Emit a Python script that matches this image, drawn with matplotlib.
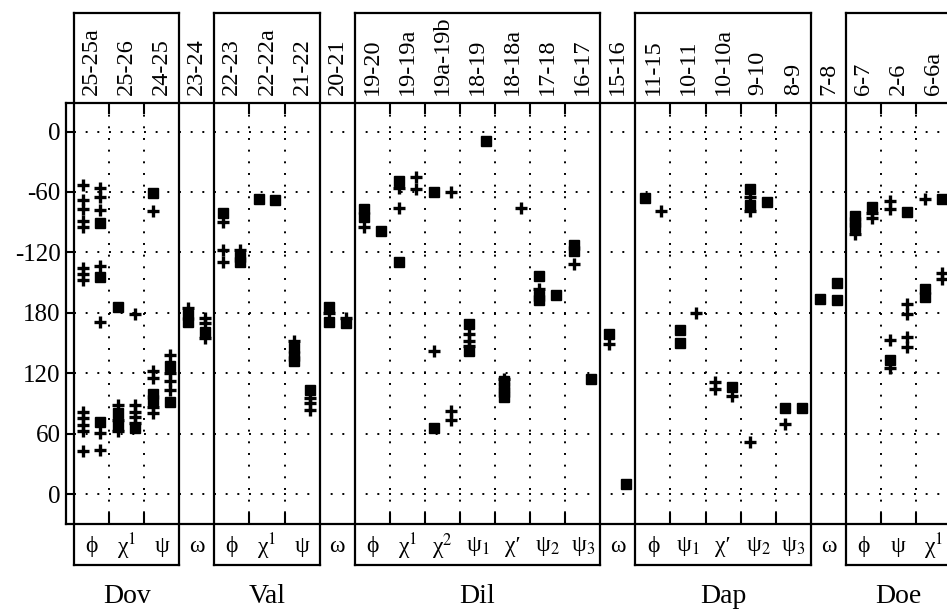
import matplotlib
matplotlib.use('Agg')
import matplotlib.pyplot as plt

plt.rcParams['font.family'] = ['Liberation Serif', 'DejaVu Serif']
plt.rcParams['mathtext.fontset'] = 'stix'

# residue pairs (top) and torsion names (bottom), one per column
pairs = ['25-25a', '25-26', '24-25', '23-24', '22-23', '22-22a', '21-22', '20-21',
         '19-20', '19-19a', '19a-19b', '18-19', '18-18a', '17-18', '16-17', '15-16',
         '11-15', '10-11', '10-10a', '9-10', '8-9', '7-8', '6-7', '2-6', '6-6a']
angles = ['ϕ', 'χ$^1$', 'ψ', 'ω',
          'ϕ', 'χ$^1$', 'ψ', 'ω',
          'ϕ', 'χ$^1$', 'χ$^2$', 'ψ$_1$', 'χ′', 'ψ$_2$', 'ψ$_3$', 'ω',
          'ϕ', 'ψ$_1$', 'χ′', 'ψ$_2$', 'ψ$_3$', 'ω',
          'ϕ', 'ψ', 'χ$^1$']
groups = ['Dov', 'Val', 'Dil', 'Dap', 'Doe']
group_cols = [(0, 2), (4, 6), (8, 14), (16, 20), (22, 24)]

# torsion values (degrees) per column, left / right sub-position
left_plus = [[-53, -68, -77, -89, -95, -135, -141, -147, 82, 76, 69, 63, 43],
             [89, 74, 63], [-79, 122, 115, 87, 81], [-175],
             [-90, -118, -129], [], [152], [180],
             [-95], [-56, -76], [142], [159, 152, 147], [114], [-156], [-131], [149],
             [], [], [111, 105], [-65, -79, 52], [70], [],
             [-102], [-69, -77, 153, 125], [-67]]
left_box = [[], [-174, 81, 68], [-61, 100, 94], [178, 171],
            [-81], [-67], [145, 137, 132], [-174, 171],
            [-77, -85], [-49, -129], [-60, 66], [169, 142], [112, 107, 102, 97], [-143, -163, -167], [-113, -119], [159],
            [-66], [163, 150], [], [-57, -73], [86], [-166],
            [-84, -90, -95], [133], [-156, -164]]
right_plus = [[-56, -65, -78, -133, 171, 61, 44],
              [179, 89, 82, 77, 71], [138, 120, 112, 104], [175, 170, 155],
              [-118], [], [96, 91, 84], [175],
              [], [-45, -57], [-60, 83, 74], [], [-76], [], [], [],
              [-79], [180], [98], [], [], [],
              [-81, -86], [-171, 179, 156, 146], [-140, -146]]
right_box = [[-91, -144, 72], [66], [127, 92], [161],
             [-124, -129], [-68], [104], [170],
             [-99], [], [], [-9], [], [-162], [114], [10],
             [], [], [107], [-70], [86], [-150, -167],
             [-75], [-80], [-67]]


def to_y(v):
    # axis runs 0 -> -180/180 -> 0 going down
    return (-v) % 360


fig = plt.figure(figsize=(9.47, 6.14), dpi=100)
ax = fig.add_axes([66 / 947, 90 / 614, 881 / 947, 421 / 614])
ax.set_xlim(-0.727, 24.38)
ax.set_ylim(389.4, -28.3)

off = 0.24
for i in range(len(pairs)):
    for vals, dx, mk in [(left_plus[i], -off, '+'), (right_plus[i], off, '+'),
                         (left_box[i], -off, 's'), (right_box[i], off, 's')]:
        if not vals:
            continue
        ys = [to_y(v) for v in vals]
        if mk == '+':
            ax.plot([i + dx] * len(ys), ys, '+', color='black', ms=9, mew=2.4)
        else:
            ax.plot([i + dx] * len(ys), ys, 's', color='black', ms=7)

dots = (0, (1, 5))
for yv in range(0, 361, 60):
    ax.hlines(yv, -0.5, 25, colors='black', linewidth=1.4, linestyles=[dots])

y_top, y_bot = -117.6, 430.1
for (a, b) in group_cols:
    for k in range(a, b):
        ax.vlines(k + 0.5, -28.3, 389.4, colors='black', linewidth=1.4, linestyles=[dots])
        ax.plot([k + 0.5, k + 0.5], [-28.3, -18], color='black', lw=1.5)
        ax.plot([k + 0.5, k + 0.5], [389.4, 379], color='black', lw=1.5)
    ax.plot([a - 0.5, a - 0.5], [y_top, y_bot], color='black', lw=1.6, clip_on=False)
    ax.plot([b + 0.5, b + 0.5], [y_top, y_bot], color='black', lw=1.6, clip_on=False)
    ax.plot([a - 0.5, b + 0.5], [y_top, y_top], color='black', lw=1.6, clip_on=False)
    ax.plot([a - 0.5, b + 0.5], [y_bot, y_bot], color='black', lw=1.6, clip_on=False)
    ax.text((a + b) / 2, 461.8, groups[group_cols.index((a, b))], fontsize=20,
            ha='center', va='center')

for i, (p, g) in enumerate(zip(pairs, angles)):
    ax.text(i, -36.2, p, rotation=90, fontsize=17.5, ha='center', va='bottom')
    ax.text(i, 412.2, g, fontsize=17, ha='center', va='center')

ax.set_yticks([0, 60, 120, 180, 240, 300, 360])
ax.set_yticklabels(['0', '-60', '-120', '180', '120', '60', '0'], fontsize=18)
ax.set_xticks([])
ax.tick_params(axis='y', direction='in', length=6, width=1.5, pad=4)
ax.spines['right'].set_visible(False)
for s in ['left', 'top', 'bottom']:
    ax.spines[s].set_linewidth(1.6)

fig.savefig('out.png', dpi=100)
